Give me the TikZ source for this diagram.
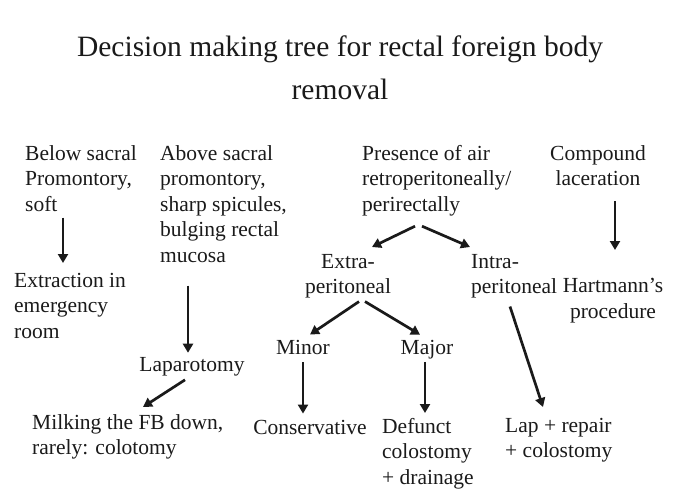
\documentclass[tikz,border=0pt]{standalone}
\usepackage{fontspec}
\setmainfont{Liberation Serif}
\usepackage{tikz}
\usetikzlibrary{arrows.meta, positioning, calc}
\definecolor{inkDark}{HTML}{1A1A1A}

\begin{document}
\begin{tikzpicture}[
  x=1pt, y=-1pt,
  every node/.style={inner sep=0pt, text=inkDark},
  txt/.style={font=\fontsize{21.5}{25.5}\selectfont},
  leftblock/.style={txt, align=left, anchor=north west},
  midblock/.style={txt, align=center, anchor=north},
  word/.style={txt, anchor=base},
  arrow/.style={-{Triangle[length=9pt, width=10pt]}, draw=inkDark, line width=2.7pt},
]
\useasboundingbox (0,0) rectangle (689,491);

% ── Title ──────────────────────────────────────────────────────────
\node[align=center, anchor=north, font=\fontsize{29.5}{43}\selectfont]
  (title) at (340,36) {Decision making tree for rectal foreign body\\removal};

% ── Top row (indications) ──────────────────────────────────────────
\node[leftblock] (below)    at (25,145)  {Below sacral\\Promontory,\\soft};
\node[leftblock] (above)    at (160,145) {Above sacral\\promontory,\\sharp spicules,\\bulging rectal\\mucosa};
\node[leftblock] (presence) at (362,145) {Presence of air\\retroperitoneally/\\perirectally};
\node[midblock]  (compound) at (598,145) {Compound\\laceration};

% ── Middle row ─────────────────────────────────────────────────────
\node[leftblock] (extract) at (14,273)  {Extraction in\\emergency\\room};
\node[midblock]  (extra)   at (348,254) {Extra-\\peritoneal};
\node[leftblock] (intra)   at (471,254) {Intra-\\peritoneal};
\node[midblock]  (hart)    at (613,278) {Hartmann's\\procedure};

\node[word] (lapar) at (192,371) {Laparotomy};
\node[word] (minor) at (303,354) {Minor};
\node[word] (major) at (427,354) {Major};

% ── Bottom row (treatment) ─────────────────────────────────────────
\node[leftblock] (milk)    at (32,414)  {Milking the FB down,\\rarely: colotomy};
\node[word]      (conserv) at (310,434) {Conservative};
\node[leftblock] (defunct) at (382,418) {Defunct\\colostomy\\+ drainage};
\node[leftblock] (lap)     at (505,418) {Lap + repair\\+ colostomy};

% ── Arrows ─────────────────────────────────────────────────────────
\draw[arrow] ([shift={(38,6)}]below.south west) -- ([shift={(49,-10)}]extract.north west);
\draw[arrow] ([shift={(28,23)}]above.south west) -- ([shift={(-4,-4)}]lapar.north);
\draw[arrow] ([shift={(-7,4)}]lapar.south)       -- ([shift={(111,-7)}]milk.north west);

\draw[arrow] ([shift={(53,10)}]presence.south west) -- ([shift={(24,-7)}]extra.north);
\draw[arrow] ([shift={(60,10)}]presence.south west) -- ([shift={(-1,-7)}]intra.north west);

\draw[arrow] ([shift={(11,3)}]extra.south) -- ([shift={(7,-5)}]minor.north);
\draw[arrow] ([shift={(17,3)}]extra.south) -- ([shift={(-7,-5)}]major.north);

\draw[arrow] ([shift={(0,8)}]minor.south) -- ([shift={(-7,-6)}]conserv.north);
\draw[arrow] ([shift={(-2,3)}]major.south) -- ([shift={(43,-5)}]defunct.north west);

\draw[arrow] ([shift={(39,8)}]intra.south west) -- ([shift={(38,-11)}]lap.north west);
\draw[arrow] ([shift={(17,15)}]compound.south)  -- ([shift={(2,-28)}]hart.north);

\end{tikzpicture}
\end{document}
